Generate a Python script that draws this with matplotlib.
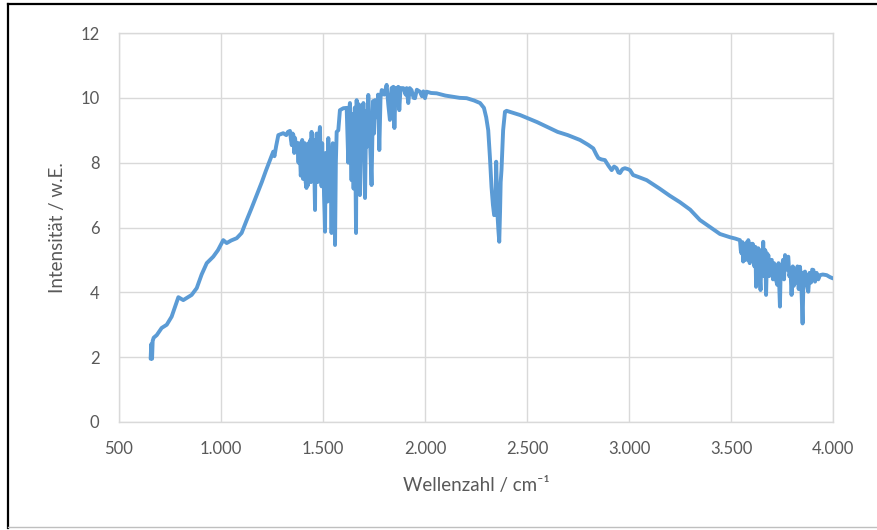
import matplotlib.pyplot as plt
from matplotlib.lines import Line2D
from matplotlib.ticker import FuncFormatter, MultipleLocator

plt.rcParams['font.family'] = ['Lato', 'DejaVu Sans']

# spectrum (wavenumber in cm^-1, intensity in w.E.)
wellenzahl = [655, 658, 662, 665, 670, 685, 709, 734, 758, 791, 815, 856, 881, 905, 930, 962, 985,
              1011, 1028, 1050, 1077, 1101, 1126, 1150, 1175, 1200, 1220, 1240, 1256, 1262, 1270,
              1281, 1305, 1320, 1328, 1338, 1343, 1347, 1351, 1355, 1359, 1363, 1369, 1375, 1380,
              1384, 1387, 1391, 1395, 1398, 1402, 1405, 1408, 1411, 1415, 1419, 1422, 1426, 1429,
              1432, 1435, 1438, 1441, 1444, 1447, 1450, 1453, 1456, 1459, 1461, 1463, 1466, 1469,
              1473, 1477, 1481, 1485, 1489, 1493, 1496, 1499, 1502, 1505, 1508, 1510, 1513, 1516,
              1519, 1522, 1526, 1530, 1534, 1538, 1542, 1545, 1548, 1551, 1553, 1556, 1559, 1563,
              1567, 1575, 1583, 1600, 1616,
              1624, 1628, 1632, 1640, 1645, 1650, 1656, 1662, 1665, 1672, 1676, 1681, 1688, 1693,
              1698, 1706, 1712, 1717, 1722, 1730, 1738, 1745, 1750, 1755, 1765, 1770, 1776, 1782,
              1788, 1800, 1812, 1820, 1828, 1836, 1845, 1850, 1856, 1862, 1869, 1874, 1880, 1894,
              1905, 1910, 1918, 1925, 1934, 1944, 1951, 1960, 1975, 1985, 1992, 2000, 2008, 2030,
              2057, 2100, 2139, 2170, 2204, 2240, 2270, 2289, 2300, 2310, 2318, 2326, 2333, 2339,
              2345, 2349, 2353, 2356, 2360, 2364, 2368, 2371, 2375, 2383, 2392, 2400, 2466, 2500,
              2550, 2600, 2650, 2700, 2760, 2800, 2825, 2840, 2850, 2865, 2882, 2900, 2915, 2927,
              2939, 2948, 2956, 2968, 2980, 2995, 3005, 3020, 3050, 3087, 3150, 3200, 3250, 3300,
              3348, 3400, 3446, 3495, 3520, 3544, 3548, 3552, 3556, 3560, 3565, 3569, 3572, 3578,
              3582, 3585, 3588, 3592, 3595, 3598, 3603, 3606, 3609, 3612, 3615, 3620, 3623, 3628,
              3631, 3634, 3640, 3645, 3650, 3654, 3658, 3663, 3668, 3672, 3677, 3680, 3683, 3687,
              3691, 3695, 3700, 3706, 3711, 3716, 3720, 3727, 3733, 3740, 3744, 3748, 3755, 3760,
              3765, 3772, 3776, 3781, 3786, 3792, 3797, 3803, 3808, 3814, 3820, 3826, 3832, 3838,
              3844, 3851, 3856, 3863, 3870, 3879, 3885, 3892, 3898, 3904, 3912, 3920, 3928, 3936,
              3950, 3969, 3985, 4000]
intensitaet = [1.95, 2.4, 1.95, 2.5, 2.6, 2.68, 2.9, 3.0, 3.25, 3.85, 3.76, 3.92, 4.13, 4.55, 4.9, 5.1, 5.3,
               5.61, 5.52, 5.6, 5.67, 5.83, 6.23, 6.6, 7.0, 7.4, 7.75, 8.08, 8.34, 8.2, 8.5,
               8.85, 8.91, 8.85, 8.95, 8.98, 8.7, 8.54, 8.9, 8.85, 8.3, 8.76, 8.4, 8.6, 8.0,
               8.6, 8.3, 7.6, 7.93, 8.7, 7.5, 8.5, 7.6, 8.6, 7.4, 7.22, 8.5, 7.3, 8.6,
               7.5, 8.4, 8.7, 7.4, 8.95, 7.6, 7.8, 8.7, 8.6, 7.2, 6.54, 8.4, 7.5, 8.9,
               7.4, 7.6, 8.8, 9.1, 7.8, 7.27, 8.6, 7.4, 8.2, 7.0, 6.4, 5.87, 8.3, 7.4,
               8.1, 6.8, 8.76, 7.6, 7.2, 8.4, 5.83, 8.2, 8.6, 7.0, 6.6, 8.0, 5.46, 8.0,
               8.95, 9.0, 9.62, 9.68, 9.69,
               8.0, 9.6, 9.84, 7.46, 9.5, 7.2, 9.7, 5.83, 9.93, 8.3, 9.8, 7.0, 9.6, 8.2,
               9.84, 6.91, 9.6, 8.5, 10.09, 8.8, 7.31, 9.9, 8.9, 9.93, 9.4, 10.1, 8.39, 10.0,
               10.24, 10.1, 10.4, 9.8, 9.32, 10.3, 10.34, 9.07, 10.3, 10.1, 10.34, 9.62, 10.3, 10.3,
               10.1, 10.3, 9.84, 10.3, 10.24, 10.0, 9.99, 10.25, 10.19, 10.05, 10.2, 9.99, 10.19, 10.15,
               10.14, 10.07, 10.03, 10.0, 9.99, 9.92, 9.84, 9.69, 9.4, 9.0, 8.2, 7.26, 6.7, 6.38,
               6.4, 8.03, 7.0, 6.33, 5.9, 5.56, 6.5, 7.4, 7.77, 9.0, 9.57, 9.6, 9.47, 9.38,
               9.25, 9.1, 8.95, 8.85, 8.7, 8.55, 8.44, 8.25, 8.14, 8.1, 8.08, 7.9, 7.77, 7.88,
               7.83, 7.7, 7.68, 7.8, 7.83, 7.8, 7.77, 7.62, 7.55, 7.46, 7.2, 6.98, 6.78, 6.55,
               6.23, 6.0, 5.8, 5.7, 5.66, 5.61, 5.3, 5.2, 5.55, 4.95, 5.5, 5.0, 5.2, 5.55,
               5.0, 5.61, 5.1, 4.9, 5.45, 5.5, 5.0, 5.5, 5.46, 4.9, 4.8, 5.4, 4.17, 5.3,
               4.6, 5.36, 4.6, 4.07, 5.3, 4.7, 5.56, 4.5, 5.3, 3.92, 5.2, 4.6, 5.15, 4.5,
               4.75, 5.0, 5.0, 4.4, 4.9, 4.79, 4.4, 4.23, 4.9, 3.56, 4.8, 4.64, 5.0, 4.4,
               5.15, 4.7, 5.05, 5.1, 4.5, 4.64, 3.92, 4.8, 4.2, 4.69, 4.3, 4.8, 4.1, 4.79,
               4.4, 3.04, 4.6, 4.64, 4.3, 4.02, 4.6, 4.3, 4.7, 4.69, 4.33, 4.6, 4.4, 4.53,
               4.55, 4.53, 4.47, 4.43]

x_ticks = [500, 1000, 1500, 2000, 2500, 3000, 3500, 4000]

fig = plt.figure(figsize=(8.77, 5.30), dpi=100)
ax = fig.add_axes([0.1357, 0.2038, 0.8141, 0.7339])

ax.plot(wellenzahl, intensitaet, color='#5B9BD5', linewidth=2.8,
        solid_joinstyle='round', solid_capstyle='round', zorder=3)

ax.set_xlim(500, 4000)
ax.set_ylim(0, 12)
ax.set_xticks(x_ticks)
ax.yaxis.set_major_locator(MultipleLocator(2))
# German thousands separator
ax.xaxis.set_major_formatter(FuncFormatter(lambda v, p: f'{int(v):,}'.replace(',', '.')))

ax.grid(True, color='#D9D9D9', linewidth=1.0, zorder=0)
for s in ax.spines.values():
    s.set_color('#D9D9D9')
    s.set_linewidth(1.0)
ax.tick_params(length=0, labelsize=12, labelcolor='#595959')
ax.tick_params(axis='y', pad=14)
ax.tick_params(axis='x', pad=14)

ax.set_xlabel('Wellenzahl / cm⁻¹', fontsize=13.5, color='#595959', labelpad=14)
ax.set_ylabel('Intensität / w.E.', fontsize=13.5, color='#595959', labelpad=10)

# frame around the chart
fig.add_artist(Line2D([0.0095, 0.0095], [0.004, 0.993], color='black', linewidth=1.6))
fig.add_artist(Line2D([0.0095, 1.0], [0.993, 0.993], color='black', linewidth=1.6))
fig.add_artist(Line2D([0.0095, 1.0], [0.006, 0.006], color='#BFBFBF', linewidth=1.0))

fig.savefig('out.png', dpi=100)
